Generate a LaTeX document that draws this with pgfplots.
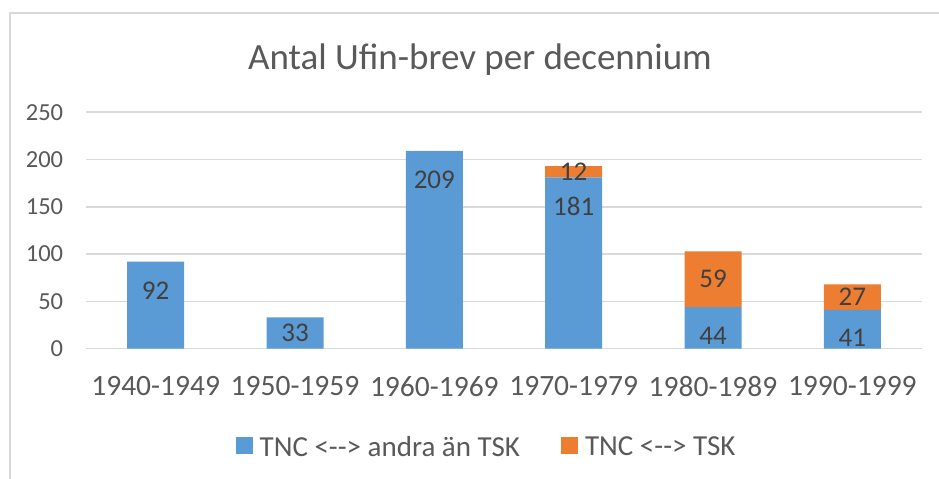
\documentclass[border=0pt]{standalone}
\usepackage{fontspec}
\setmainfont{Carlito}
\usepackage{pgfplots}
\pgfplotsset{compat=1.18}
\usepackage{pgfplotstable}
\definecolor{cblue}{HTML}{5B9BD5}
\definecolor{corange}{HTML}{ED7D31}
\definecolor{txt}{HTML}{595959}
\definecolor{lbl}{HTML}{404040}
\definecolor{gridc}{HTML}{D9D9D9}

\pgfplotstableread{
x a sa b sb
0 92 14.8 0 0
1 33 0 0 0
2 209 70.2 0 0
3 181 56.9 12 0
4 44 -7.5 59 0
5 41 -8.6 27 0
}\data

\begin{document}
\begin{tikzpicture}
\path[use as bounding box] (0bp,0bp) rectangle (939bp,479bp);
\draw[gridc, line width=2bp] (10bp,-10bp) -- (10bp,466bp) -- (950bp,466bp);
\begin{axis}[
 at={(86bp,130.3bp)}, anchor=south west,
 scale only axis, width=836bp, height=236.5bp,
 ybar stacked, bar width=57bp,
 xmin=-0.5, xmax=5.5, ymin=0, ymax=250,
 xtick={0,1,2,3,4,5},
 xticklabels={1940-1949,1950-1959,1960-1969,1970-1979,1980-1989,1990-1999},
 ytick={0,50,100,150,200,250},
 ymajorgrids, major grid style={gridc, line width=1.5bp},
 axis line style={draw=none}, major tick length=0pt,
 /pgf/number format/assume math mode=true,
 xticklabel style={text=txt, font=\fontsize{29.5bp}{34bp}\selectfont, anchor=north, inner sep=0pt, yshift=-27.5bp},
 yticklabel style={text=txt, font=\fontsize{24.5bp}{29bp}\selectfont, anchor=east, inner sep=0pt, xshift=-22.7bp},
 nodes near coords style={text=lbl, font=\fontsize{27bp}{31bp}\selectfont, inner sep=0pt},
 legend style={at={(0.478,-0.415)}, anchor=center, draw=none, fill=none,
   legend columns=-1, text=txt, font=\fontsize{29bp}{34bp}\selectfont,
   nodes={inner sep=0pt},
   /tikz/every odd column/.append style={column sep=7bp},
   /tikz/every even column/.append style={column sep=41bp}},
 legend image code/.code={\fill[#1] (0bp,-7bp) rectangle (17bp,10bp);},
]
\addplot[fill=cblue, draw=none, nodes near coords, point meta=explicit,
  visualization depends on={\thisrow{sa} \as \sh},
  every node near coord/.append style={anchor=center, yshift=\sh*1bp}]
  table[x=x, y=a, meta=a] {\data};
\addlegendentry{TNC <-{}-> andra än TSK}
\addplot[fill=corange, draw=none, point meta=explicit,
  nodes near coords={\pgfmathfloatifflags{\pgfplotspointmeta}{0}{}{\pgfmathprintnumber{\pgfplotspointmeta}}},
  every node near coord/.append style={anchor=center}]
  table[x=x, y=b, meta=b] {\data};
\addlegendentry{TNC <-{}-> TSK}
\end{axis}
\node[anchor=base, text=txt, font=\fontsize{37bp}{42bp}\selectfont, inner sep=0pt] at (480bp,409.7bp) {Antal Ufin-brev per decennium};
\end{tikzpicture}
\end{document}
